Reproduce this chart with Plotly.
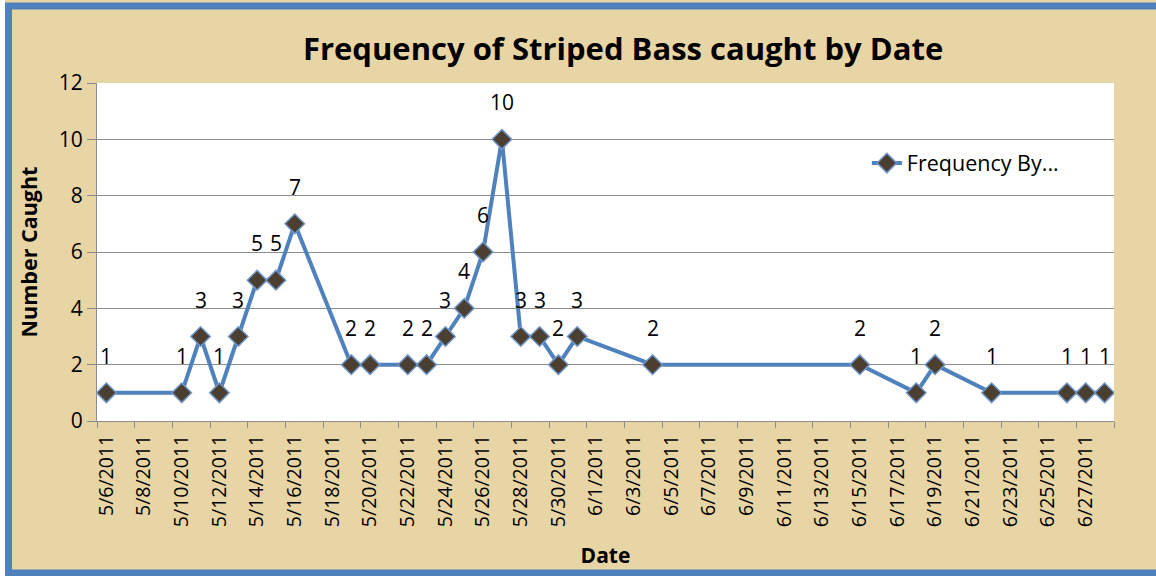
import plotly.graph_objects as go

dates = ["2011-05-06", "2011-05-10", "2011-05-11", "2011-05-12", "2011-05-13", "2011-05-14",
         "2011-05-15", "2011-05-16", "2011-05-19", "2011-05-20", "2011-05-22", "2011-05-23",
         "2011-05-24", "2011-05-25", "2011-05-26", "2011-05-27", "2011-05-28", "2011-05-29",
         "2011-05-30", "2011-05-31", "2011-06-04", "2011-06-15", "2011-06-18", "2011-06-19",
         "2011-06-22", "2011-06-26", "2011-06-27", "2011-06-28"]
counts = [1, 1, 3, 1, 3, 5, 5, 7, 2, 2, 2, 2, 3, 4, 6, 10, 3, 3, 2, 3, 2, 2, 1, 2, 1, 1, 1, 1]

tick_dates = ["2011-05-06", "2011-05-08", "2011-05-10", "2011-05-12", "2011-05-14", "2011-05-16",
              "2011-05-18", "2011-05-20", "2011-05-22", "2011-05-24", "2011-05-26", "2011-05-28",
              "2011-05-30", "2011-06-01", "2011-06-03", "2011-06-05", "2011-06-07", "2011-06-09",
              "2011-06-11", "2011-06-13", "2011-06-15", "2011-06-17", "2011-06-19", "2011-06-21",
              "2011-06-23", "2011-06-25", "2011-06-27"]
tick_labels = ["5/6/2011", "5/8/2011", "5/10/2011", "5/12/2011", "5/14/2011", "5/16/2011",
               "5/18/2011", "5/20/2011", "5/22/2011", "5/24/2011", "5/26/2011", "5/28/2011",
               "5/30/2011", "6/1/2011", "6/3/2011", "6/5/2011", "6/7/2011", "6/9/2011",
               "6/11/2011", "6/13/2011", "6/15/2011", "6/17/2011", "6/19/2011", "6/21/2011",
               "6/23/2011", "6/25/2011", "6/27/2011"]
y_ticks = [0, 2, 4, 6, 8, 10, 12]

FONT = "Open Sans"
BLUE = "#4F81BD"
TAN = "#E8D5A5"

fig = go.Figure()
fig.add_trace(go.Scatter(
    x=dates, y=counts, mode="lines+markers", name="Frequency By...",
    line=dict(color=BLUE, width=4),
    marker=dict(symbol="diamond", size=15, color="#4A3F30",
                line=dict(color="#6E95C8", width=1.5)),
))

annotations = []
for d, c in zip(dates, counts):
    annotations.append(dict(x=d, y=c, xref="x", yref="y", text=str(c), showarrow=False,
                            yshift=37, font=dict(family=FONT, size=21, color="black")))

fig.update_layout(
    width=1156, height=576,
    margin=dict(l=97, r=42, t=83, b=155),
    paper_bgcolor=TAN, plot_bgcolor="white",
    title=dict(text="<b>Frequency of Striped Bass caught by Date</b>",
               x=0.539, xanchor="center", y=0.915, yanchor="middle",
               font=dict(family=FONT, size=31, color="black")),
    font=dict(family=FONT, color="black"),
    showlegend=True,
    legend=dict(x=0.757, y=0.763, xanchor="left", yanchor="middle",
                bgcolor="rgba(0,0,0,0)", font=dict(family=FONT, size=21.5)),
    annotations=annotations,
    xaxis=dict(
        type="date",
        range=["2011-05-05 12:00", "2011-06-28 12:00"],
        tickvals=tick_dates, ticktext=tick_labels, tickangle=-90,
        ticks="outside", ticklen=5, tickcolor="rgba(0,0,0,0)",
        tickfont=dict(family=FONT, size=19.5),
        showgrid=False, showline=True, linecolor="#8C8C8C", linewidth=1,
        minor=dict(ticks="outside", tick0="2011-05-05 12:00", dtick=2 * 86400000,
                   ticklen=6, tickcolor="#8C8C8C", showgrid=False),
        title=dict(text="<b>Date</b>", font=dict(family=FONT, size=21), standoff=22),
    ),
    yaxis=dict(
        range=[0, 12], tickvals=y_ticks,
        showgrid=True, gridcolor="#8C8C8C", gridwidth=1,
        showline=True, linecolor="#8C8C8C", linewidth=1,
        ticks="outside", ticklen=9, tickcolor="#8C8C8C",
        tickfont=dict(family=FONT, size=21),
        title=dict(text="<b>Number Caught</b>", font=dict(family=FONT, size=21.5), standoff=15),
        zeroline=False,
    ),
    shapes=[
        dict(type="rect", xref="paper", yref="paper",
             x0=(0 - 97) / 1017, x1=(5 - 97) / 1017, y0=-0.46, y1=1.25,
             fillcolor="white", line=dict(width=0), layer="above"),
        dict(type="rect", xref="paper", yref="paper",
             x0=(8.5 - 97) / 1017, x1=(1165 - 97) / 1017,
             y0=(421 - 573) / 338, y1=(421 - 6) / 338,
             fillcolor="rgba(0,0,0,0)", line=dict(color=BLUE, width=7), layer="above"),
    ],
)

fig.write_html("out.html", config={"displayModeBar": False},
               post_script="document.body.style.margin='0px';")
